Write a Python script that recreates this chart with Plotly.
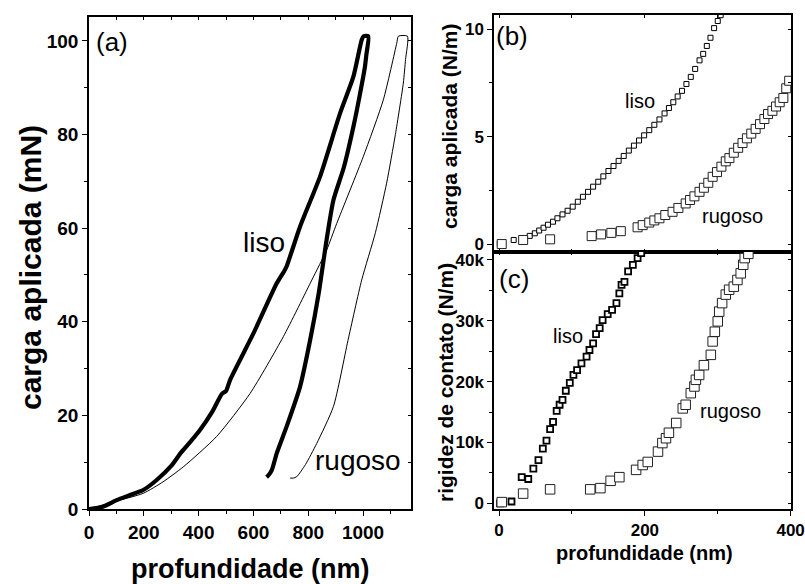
import plotly.graph_objects as go

W, H = 805, 584
FONT = "Liberation Sans, Arial, sans-serif"

# ---------------- panel (a): load vs depth ----------------
liso_x = [0, 50, 101, 150, 198, 247, 300, 335, 350, 405, 450, 485, 500, 515, 600, 685,
          712, 721, 770, 843, 916, 965, 995, 1002, 1019,
          1012, 1007, 990, 965, 930, 892, 867, 838, 807, 770, 721, 685, 667, 655, 648]
liso_y = [0, 0.5, 1.9, 3.0, 4.06, 6.2, 9.2, 12.0, 13.0, 16.9, 20.8, 24.6, 25.2, 27.6, 37.5, 48.2,
          50.8, 51.8, 60.3, 71, 84.5, 92.4, 100.2, 101, 101,
          97, 94.5, 89, 81.7, 73, 66, 57.5, 46, 36.1, 26.1, 17.6, 11.9, 8.3, 7.2, 6.8]

rug_x = [0, 100, 198, 270, 344, 466, 588, 709, 813, 867, 904, 1001, 1074, 1123, 1129, 1162,
         1155, 1147, 1118, 1086, 1045, 995, 945, 892, 831, 790, 758, 745, 734]
rug_y = [0, 1.7, 3.35, 5.8, 9.0, 15.5, 24.7, 36.8, 48.9, 55.3, 61, 75.3, 87.4, 99.5, 101, 101,
         96, 91, 80, 69.6, 59, 48.9, 36, 21.9, 14, 9.5, 6.9, 6.6, 6.6]

# ---------------- panel (b): load (N/m) vs depth ----------------
liso_b_x = [1, 20, 33, 42, 49, 55, 61, 67, 74, 80, 87, 94, 101, 108, 115, 122, 129, 136, 143,
            150, 157, 164, 171, 178, 185, 192, 199, 206, 213, 220, 227, 233, 239, 245, 251,
            257, 263, 269, 275, 280, 285, 290, 295, 300, 304]
liso_b_y = [0.02, 0.19, 0.22, 0.38, 0.5, 0.63, 0.76, 0.9, 1.04, 1.2, 1.38, 1.55, 1.74, 1.97,
            2.2, 2.43, 2.67, 2.9, 3.15, 3.4, 3.63, 3.87, 4.1, 4.35, 4.58, 4.82, 5.06, 5.3,
            5.55, 5.8, 6.08, 6.33, 6.6, 6.87, 7.13, 7.45, 7.78, 8.15, 8.55, 8.85, 9.22, 9.6,
            10.05, 10.38, 10.65]
rug_b_x = [3.6, 33, 70, 127, 140, 154, 167, 190, 197, 206, 213, 220, 228, 238, 246, 256, 262,
           268, 275, 281, 287, 293, 299, 305, 311, 316, 322, 328, 334, 340, 346, 352, 358,
           364, 369, 375, 380, 385, 390, 394, 398]
rug_b_y = [0, 0.19, 0.22, 0.37, 0.45, 0.52, 0.6, 0.78, 0.88, 1.0, 1.1, 1.2, 1.35, 1.5, 1.68,
           1.89, 2.05, 2.22, 2.43, 2.62, 2.85, 3.13, 3.35, 3.6, 3.85, 4.0, 4.25, 4.48, 4.7,
           4.92, 5.14, 5.36, 5.58, 5.82, 6.05, 6.2, 6.4, 6.6, 6.8, 7.25, 7.6]

# ---------------- panel (c): contact stiffness vs depth ----------------
liso_c_x = [1.4, 17, 31, 40, 47, 54, 60, 65, 70, 74, 79, 83, 87, 91.5, 97, 102, 107, 113, 120,
            124, 129, 133, 138, 142, 149, 155, 161, 165, 168, 172, 177, 183.5, 190, 195]
liso_c_y = [0, 300, 4300, 4000, 5700, 7100, 9000, 10300, 12200, 13400, 15200, 16200, 17000,
            18500, 19800, 21100, 21900, 23000, 24100, 25200, 26300, 27800, 28800, 30100,
            31100, 31800, 32900, 34500, 35900, 36400, 38100, 39200, 40300, 41100]
rug_c_x = [3.6, 33, 70, 125, 139, 153, 165, 188, 197, 204, 218, 224, 229, 233, 243, 252, 256,
           263, 268, 270, 274.5, 281, 290.5, 293, 296, 300, 302, 306, 311, 315.6, 322, 327,
           331.5, 335, 337, 342]
rug_c_y = [200, 1600, 2300, 2300, 2500, 3700, 4300, 5500, 6300, 6800, 8500, 9900, 10700,
           11600, 13200, 15600, 16200, 18100, 19200, 20300, 21100, 22700, 24400, 26600,
           28200, 29900, 31500, 32900, 34300, 35100, 35600, 36700, 37800, 39200, 40300, 41000]

a_xticks = [0, 200, 400, 600, 800, 1000]
a_yticks = [0, 20, 40, 60, 80, 100]
b_yticks = [0, 5, 10]
c_xticks = [0, 200, 400]
c_yticks = [0, 10000, 20000, 30000, 40000]
c_yticktext = ["0", "10k", "20k", "30k", "40k"]


def fx(p):
    return p / W


def fy(p):
    return 1 - p / H


fig = go.Figure()

fig.add_trace(go.Scatter(x=liso_x, y=liso_y, mode="lines",
                         line=dict(color="black", width=4.2, shape="spline", smoothing=0.6),
                         xaxis="x", yaxis="y"))
fig.add_trace(go.Scatter(x=rug_x, y=rug_y, mode="lines",
                         line=dict(color="black", width=1, shape="spline", smoothing=0.6),
                         xaxis="x", yaxis="y"))

fig.add_trace(go.Scatter(x=liso_b_x, y=liso_b_y, mode="markers", xaxis="x2", yaxis="y2",
                         marker=dict(symbol="square", size=5, color="white",
                                     line=dict(color="black", width=1))))
fig.add_trace(go.Scatter(x=rug_b_x, y=rug_b_y, mode="markers", xaxis="x2", yaxis="y2",
                         marker=dict(symbol="square", size=9, color="white",
                                     line=dict(color="#222222", width=1))))

fig.add_trace(go.Scatter(x=liso_c_x, y=liso_c_y, mode="markers", xaxis="x3", yaxis="y3",
                         marker=dict(symbol="square", size=6, color="white",
                                     line=dict(color="black", width=1.8))))
fig.add_trace(go.Scatter(x=rug_c_x, y=rug_c_y, mode="markers", xaxis="x3", yaxis="y3",
                         marker=dict(symbol="square", size=9.5, color="white",
                                     line=dict(color="#222222", width=1))))

# empty traces for the mirrored (inside-tick) axes
for xa, ya in [("x4", "y4"), ("x5", "y5"), ("x6", "y6")]:
    fig.add_trace(go.Scatter(x=[], y=[], xaxis=xa, yaxis=ya, showlegend=False,
                             hoverinfo="skip"))

dom_a_x = [fx(89), fx(411)]
dom_a_y = [fy(509), fy(17)]
dom_bc_x = [fx(494), fx(791)]
dom_b_y = [fy(252), fy(15)]
dom_c_y = [fy(509), fy(252)]

xr_a = [0, 1175]
yr_a = [0, 105.1]
xr_bc = [-7, 400.5]
yr_b = [-0.37, 10.66]
yr_c = [-930, 41300]

tf_a = dict(family=FONT, size=19, color="black", weight="bold")
tf_bc = dict(family=FONT, size=17, color="black", weight="bold")

base = dict(showgrid=False, zeroline=False, showline=True, linecolor="black", linewidth=1.5,
            mirror=True, ticks="outside", tickcolor="black", tickwidth=1.3, ticklen=5,
            automargin=False, ticklabeloverflow="allow")

fig.update_layout(
    width=W, height=H, margin=dict(l=0, r=0, t=0, b=0, autoexpand=False),
    paper_bgcolor="white", plot_bgcolor="white", showlegend=False,
    xaxis=dict(**base, domain=dom_a_x, range=xr_a, anchor="y", tickvals=a_xticks,
               tickfont=tf_a,
               minor=dict(ticks="outside", ticklen=3, dtick=100, tickcolor="black",
                          tickwidth=1.3, showgrid=False)),
    yaxis=dict(**base, domain=dom_a_y, range=yr_a, anchor="x", tickvals=a_yticks,
               tickfont=tf_a,
               minor=dict(ticks="outside", ticklen=3, dtick=10, tickcolor="black",
                          tickwidth=1.3, showgrid=False)),
    xaxis2=dict(**{**base, "ticks": "inside", "ticklen": 3}, domain=dom_bc_x, range=xr_bc,
                anchor="y2", dtick=100, tick0=0, showticklabels=False),
    yaxis2=dict(**base, domain=dom_b_y, range=yr_b, anchor="x2", tickvals=b_yticks,
                tickfont=tf_bc,
                minor=dict(ticks="outside", ticklen=3, dtick=2.5, tickcolor="black",
                           tickwidth=1.3, showgrid=False)),
    xaxis3=dict(**base, domain=dom_bc_x, range=xr_bc, anchor="y3", tickvals=c_xticks,
                tickfont=tf_bc,
                minor=dict(ticks="outside", ticklen=3, dtick=100, tick0=0, tickcolor="black",
                           tickwidth=1.3, showgrid=False)),
    yaxis3=dict(**base, domain=dom_c_y, range=yr_c, anchor="x3", tickvals=c_yticks,
                ticktext=c_yticktext, tickfont=tf_bc,
                minor=dict(ticks="outside", ticklen=3, dtick=5000, tickcolor="black",
                           tickwidth=1.3, showgrid=False)),
)

inner = dict(showgrid=False, zeroline=False, showline=False, ticks="inside", ticklen=3,
             tickcolor="black", tickwidth=1.2, showticklabels=False, automargin=False)
fig.update_layout(
    xaxis4=dict(**inner, overlaying="x", side="top", anchor="y", range=xr_a, dtick=100, tick0=0),
    yaxis4=dict(**inner, overlaying="y", side="right", anchor="x", range=yr_a, dtick=10, tick0=0),
    xaxis5=dict(**inner, overlaying="x2", side="top", anchor="y2", range=xr_bc, dtick=100, tick0=0),
    yaxis5=dict(**inner, overlaying="y2", side="right", anchor="x2", range=yr_b, dtick=2.5, tick0=0),
    xaxis6=dict(**inner, overlaying="x3", side="top", anchor="y3", range=xr_bc, dtick=100, tick0=0),
    yaxis6=dict(**inner, overlaying="y3", side="right", anchor="x3", range=yr_c, dtick=5000, tick0=0),
)


def ann(text, x, y, size, bold=False, angle=0):
    fig.add_annotation(text=text, x=fx(x), y=fy(y), xref="paper", yref="paper",
                       xanchor="center", yanchor="middle", showarrow=False, textangle=angle,
                       font=dict(family=FONT, size=size, color="black",
                                 weight="bold" if bold else "normal"))


ann("(a)", 112, 42, 26)
ann("liso", 264, 243, 28)
ann("rugoso", 358, 460, 28)
ann("(b)", 512, 36, 26)
ann("liso", 640, 101, 20)
ann("rugoso", 732, 216, 20)
ann("(c)", 514, 279, 26)
ann("liso", 568, 336, 20)
ann("rugoso", 730, 411, 20)

ann("profundidade (nm)", 250, 569, 27, bold=True)
ann("carga aplicada (mN)", 30, 268, 30, bold=True, angle=-90)
ann("carga aplicada (N/m)", 449, 127, 21, bold=True, angle=-90)
ann("rigidez de contato (N/m)", 445, 383, 21, bold=True, angle=-90)
ann("profundidade (nm)", 644, 553, 20, bold=True)

fig.write_html("out.html", config={"displayModeBar": False},
               post_script="document.body.style.margin='0';document.body.style.overflow='hidden';")
